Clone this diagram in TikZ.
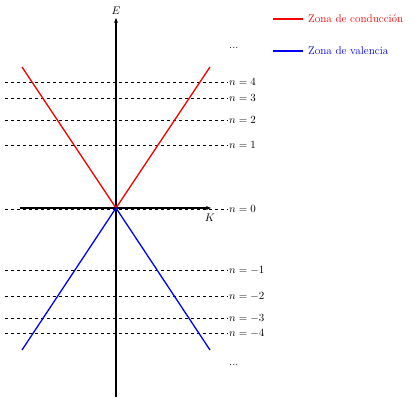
\documentclass[tikz,border=0pt]{standalone}
\usetikzlibrary{arrows.meta}
\begin{document}
\begin{tikzpicture}[x=1pt,y=-1pt,
  lvl/.style={dashed,line width=0.6pt},
  lbl/.style={anchor=west,inner sep=1pt,font=\fontsize{11.2}{13}\selectfont},
  ax/.style={line width=1.1pt,-{Stealth[length=5pt,width=4pt]}},
  cond/.style={red,line width=1.3pt},
  val/.style={blue,line width=1.3pt}]
\useasboundingbox (0,0) rectangle (419,411);
% levels
\foreach \y/\n in {82/4,98/3,120/2,145/1,209/0,270/-1,296/-2,318/-3,333/-4}{
  \coordinate (l\n) at (5,\y);
  \node[lbl] (t\n) at (228,\y) {$n=\n$};
  \draw[lvl] (l\n) -- (t\n.west);
}
\node[lbl] (dtop) at (228,48) {...};
\node[lbl] (dbot) at (228,365) {...};
% axes
\coordinate (o) at (116,208);
\coordinate (xl) at (20,208);
\coordinate (xr) at (211,208);
\coordinate (yb) at (116,397);
\coordinate (yt) at (116,18);
\draw[ax] (xl) -- (xr);
\draw[ax] (yb) -- (yt);
\node[inner sep=1pt,font=\fontsize{10.5}{12}\selectfont] (E) at (116,11) {$E$};
\node[inner sep=1pt,font=\fontsize{10.5}{12}\selectfont] (K) at (210,218) {$K$};
% bands
\coordinate (cl) at (22,67);
\coordinate (cr) at (210,67);
\coordinate (vl) at (22,350);
\coordinate (vr) at (210,350);
\draw[cond] (cl) -- (o) -- (cr);
\draw[val] (vl) -- (o) -- (vr);
% legend
\coordinate (r1) at (273,19);
\coordinate (r2) at (303,19);
\coordinate (b1) at (273,51);
\coordinate (b2) at (303,51);
\draw[cond] (r1) -- (r2);
\draw[val] (b1) -- (b2);
\node[lbl,red] (lc) at (307,19) {Zona de conducción};
\node[lbl,blue] (lv) at (307,51) {Zona de valencia};
\end{tikzpicture}
\end{document}
